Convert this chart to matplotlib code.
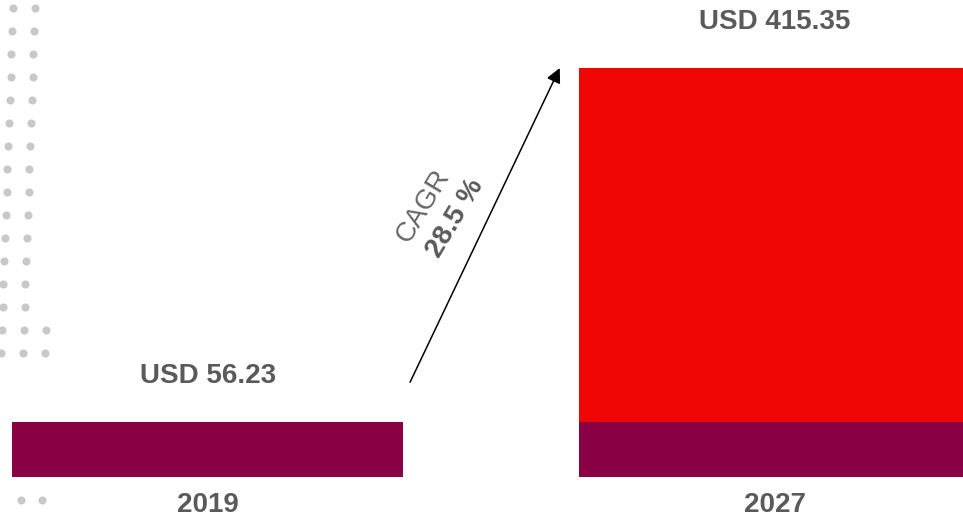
import numpy as np
import matplotlib.pyplot as plt

years = ["2019", "2027"]
base_values = [56.23, 56.23]
growth_values = [0, 415.35 - 56.23]
totals = [56.23, 415.35]
value_labels = ["USD 56.23", "USD 415.35"]
cagr_label = "28.5 %"

maroon = "#8a0045"
red = "#f00505"
grey = "#5a5a5a"

plt.rcParams['font.family'] = ['Liberation Sans', 'DejaVu Sans']

fig = plt.figure(figsize=(9.63, 5.17), dpi=100)

# decorative dot pattern on the left edge (pixel coords)
bg = fig.add_axes([0, 0, 1, 1], zorder=0)
bg.set_xlim(0, 963)
bg.set_ylim(517, 0)
bg.axis("off")
dx, dy = [], []
for i in range(16):
    for k in range(3):
        x = 13 - 0.8 * i + 22 * k
        if x < 46:
            dx.append(x)
            dy.append(8 + 23 * i)
for k in range(2):
    dx.append(21 + 21 * k)
    dy.append(500)
bg.scatter(dx, dy, s=34, color="#c8c8c8", linewidths=0)

ax = fig.add_axes([0, 0, 1, 1], zorder=1)
ax.patch.set_alpha(0)
pos = np.arange(len(years))
width = 0.69
ax.bar(pos, base_values, width=width, color=maroon)
ax.bar(pos, growth_values, width=width, bottom=base_values, color=red)

ax.set_xlim(-0.366, 1.332)
ax.set_ylim(-40.6, 484.4)
ax.axis("off")

for p, t, lab in zip(pos, totals, value_labels):
    ax.annotate(lab, (p, t), xytext=(0, 33), textcoords="offset points",
                ha="center", va="center", fontsize=20, fontweight="bold", color=grey)
for p, y in zip(pos, years):
    ax.annotate(y, (p, 0), xytext=(0, -20), textcoords="offset points",
                ha="center", va="center", fontsize=20, fontweight="bold", color=grey)

# CAGR arrow
ax.annotate("", xy=(pos[1] - width / 2 - 0.034, totals[1]),
            xytext=(pos[0] + width / 2 + 0.012, totals[0] + 40),
            arrowprops=dict(arrowstyle="-|>", color="black", lw=1.1,
                            mutation_scale=22, shrinkA=0, shrinkB=0))
ax.text(423, 206, "CAGR", transform=bg.transData, rotation=59,
        ha="center", va="center", fontsize=20, color="#666666")
ax.text(455, 218, cagr_label, transform=bg.transData, rotation=59,
        ha="center", va="center", fontsize=20, fontweight="bold", color=grey)

fig.savefig("out.png", dpi=100)
